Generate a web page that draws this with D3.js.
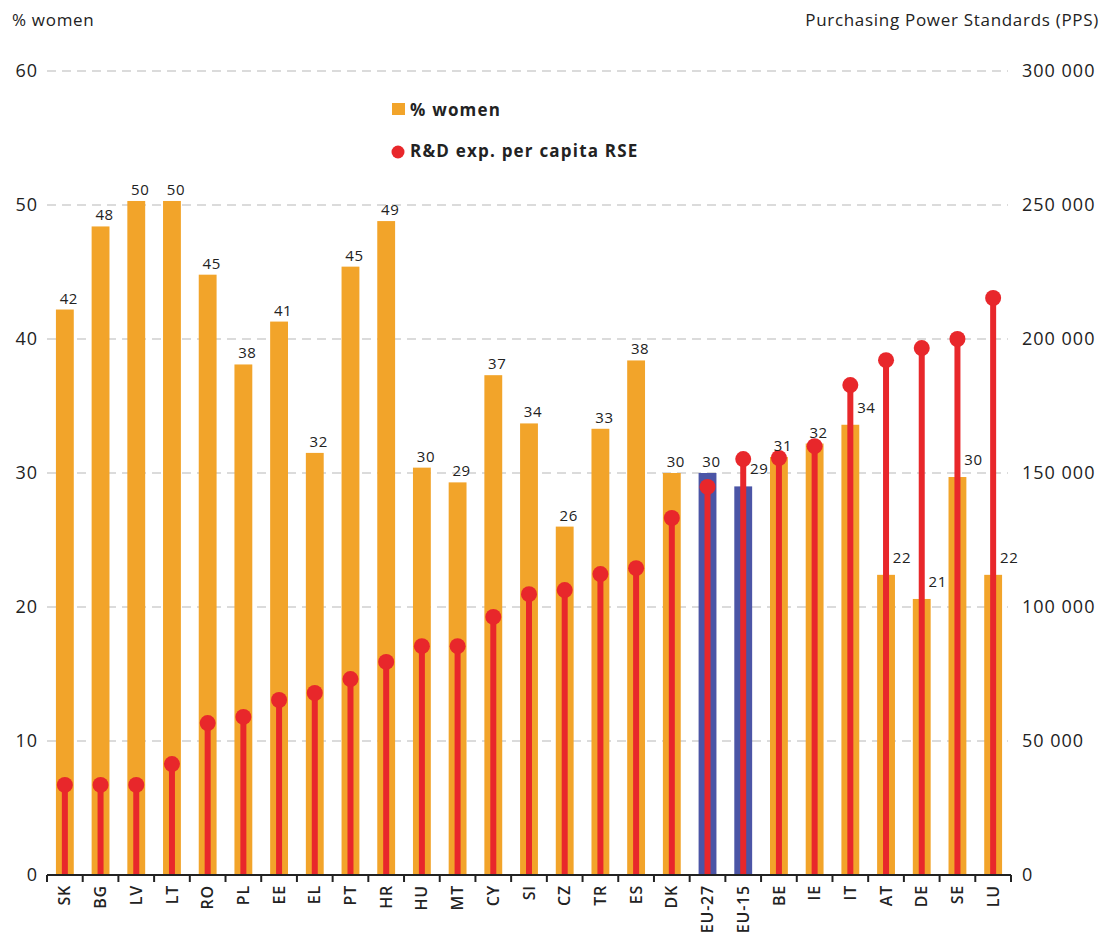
<!DOCTYPE html>
<html>
<head>
<meta charset="utf-8">
<script src="https://cdn.jsdelivr.net/npm/d3@7"></script>
<style>
  body { margin: 0; background: #fff; }
  svg text { font-family: "Open Sans", sans-serif; fill: #222; }
</style>
</head>
<body>
<svg></svg>
<script>
/** Chart values */
let countries = ['SK','BG','LV','LT','RO','PL','EE','EL','PT','HR','HU','MT','CY','SI','CZ','TR','ES','DK','EU-27','EU-15','BE','IE','IT','AT','DE','SE','LU'];
let women = [42.2,48.4,50.3,50.3,44.8,38.1,41.3,31.5,45.4,48.8,30.4,29.3,37.3,33.7,26.0,33.3,38.4,30.0,30.0,29.0,31.2,32.2,33.6,22.4,20.6,29.7,22.4];
let rdExp = [33600,33600,33600,41400,56700,59000,65300,67900,73100,79500,85400,85400,96300,104800,106300,112300,114500,133200,144800,155200,155600,160000,182800,192100,196600,200000,215300];
let aggregates = ['EU-27','EU-15'];
let leftTicks = [0,10,20,30,40,50,60];
let rightTicks = [0,50000,100000,150000,200000,250000,300000];

let width = 1103;
let height = 940;
let plotTop = 71;
let plotBottom = 875;
let plotLeft = 47;
let plotRight = 1011;

let orange = '#f2a42a';
let blue = '#4b55a6';
let red = '#e8272b';

let svg = d3.select('svg').attr('width', width).attr('height', height);

let x = d3.scaleBand().domain(countries).range([plotLeft, plotRight]).paddingInner(0.5).paddingOuter(0.25);
let yL = d3.scaleLinear().domain([0, 60]).range([plotBottom, plotTop]);
let yR = d3.scaleLinear().domain([0, 300000]).range([plotBottom, plotTop]);
let cx = d => x(d) + x.bandwidth() / 2;
let stemAbove = i => yR(rdExp[i]) < yL(women[i]);

/** Grid lines */
svg.append('g')
    .selectAll('line')
    .data(leftTicks.filter(t => t > 0))
    .enter()
    .append('line')
    .attr('x1', plotLeft)
    .attr('x2', plotRight - 3)
    .attr('y1', d => yL(d))
    .attr('y2', d => yL(d))
    .attr('stroke', '#d0d0d0')
    .attr('stroke-width', 1.6)
    .attr('stroke-dasharray', '9,6');

/** Axis labels */
let leftAxis = d3.axisLeft(yL).tickValues(leftTicks).tickSize(0).tickPadding(0);
svg.append('g')
    .attr('transform', `translate(38, 0)`)
    .call(leftAxis)
    .call(g => g.select('.domain').remove())
    .selectAll('text')
    .style('font-size', '18px')
    .style('letter-spacing', '1px')
    .attr('fill', '#222');

let rightAxis = d3.axisRight(yR).tickValues(rightTicks).tickSize(0).tickPadding(0)
    .tickFormat(d => d3.format(',')(d).replace(/,/g, ' '));
svg.append('g')
    .attr('transform', `translate(1022, 0)`)
    .call(rightAxis)
    .call(g => g.select('.domain').remove())
    .selectAll('text')
    .style('font-size', '18px')
    .style('letter-spacing', '1px')
    .attr('fill', '#222');

/** Bars */
svg.append('g')
    .selectAll('rect')
    .data(countries)
    .enter()
    .append('rect')
    .attr('x', d => x(d))
    .attr('width', x.bandwidth())
    .attr('y', (d, i) => yL(women[i]))
    .attr('height', (d, i) => plotBottom - yL(women[i]))
    .attr('fill', d => aggregates.includes(d) ? blue : orange);

/** Lollipops */
svg.append('g')
    .selectAll('line')
    .data(countries)
    .enter()
    .append('line')
    .attr('x1', cx)
    .attr('x2', cx)
    .attr('y1', plotBottom)
    .attr('y2', (d, i) => yR(rdExp[i]))
    .attr('stroke', red)
    .attr('stroke-width', 6);

svg.append('g')
    .selectAll('circle')
    .data(countries)
    .enter()
    .append('circle')
    .attr('cx', cx)
    .attr('cy', (d, i) => yR(rdExp[i]))
    .attr('r', 8)
    .attr('fill', red);

/** Value labels (moved right when the stem rises above the bar) */
svg.append('g')
    .selectAll('text')
    .data(countries)
    .enter()
    .append('text')
    .attr('x', (d, i) => cx(d) + (stemAbove(i) ? 16 : 4))
    .attr('y', (d, i) => yL(women[i]) - (stemAbove(i) ? 12 : 6))
    .attr('text-anchor', 'middle')
    .style('font-size', '15px')
    .style('letter-spacing', '0.6px')
    .text((d, i) => Math.round(women[i]));

/** X axis: baseline, ticks on band edges, rotated labels */
let edges = countries.map(d => cx(d) - x.step() / 2).concat([cx(countries[countries.length - 1]) + x.step() / 2]);
svg.append('line')
    .attr('x1', edges[0])
    .attr('x2', edges[edges.length - 1])
    .attr('y1', plotBottom)
    .attr('y2', plotBottom)
    .attr('stroke', '#222')
    .attr('stroke-width', 2);
svg.append('g')
    .selectAll('line')
    .data(edges)
    .enter()
    .append('line')
    .attr('x1', d => d)
    .attr('x2', d => d)
    .attr('y1', plotBottom)
    .attr('y2', plotBottom + 7)
    .attr('stroke', '#222')
    .attr('stroke-width', 2);

let xAxis = d3.axisBottom(x).tickSize(0).tickPadding(0);
svg.append('g')
    .attr('transform', `translate(0, ${plotBottom})`)
    .call(xAxis)
    .call(g => g.select('.domain').remove())
    .selectAll('text')
    .style('font-size', '16px')
    .style('letter-spacing', '0.8px')
    .style('font-weight', '600')
    .attr('fill', '#222')
    .attr('text-anchor', 'end')
    .attr('dy', '0.35em')
    .attr('transform', 'translate(0, 10) rotate(-90)');

/** Titles */
svg.append('text')
    .attr('x', 12)
    .attr('y', 26)
    .style('font-size', '17px')
    .style('letter-spacing', '0.7px')
    .text('% women');

svg.append('text')
    .attr('x', 1099)
    .attr('y', 26)
    .attr('text-anchor', 'end')
    .style('font-size', '17px')
    .style('letter-spacing', '0.7px')
    .text('Purchasing Power Standards (PPS)');

/** Legend */
let legend = svg.append('g');
legend.append('rect')
    .attr('x', 392).attr('y', 103).attr('width', 13).attr('height', 12)
    .attr('fill', orange);
legend.append('text')
    .attr('x', 410).attr('y', 116)
    .style('font-size', '17px').style('font-weight', 'bold')
    .style('letter-spacing', '1.2px')
    .text('% women');
legend.append('circle')
    .attr('cx', 398).attr('cy', 152).attr('r', 6.5)
    .attr('fill', red);
legend.append('text')
    .attr('x', 410).attr('y', 157)
    .style('font-size', '17px').style('font-weight', 'bold')
    .style('letter-spacing', '1.2px')
    .text('R&D exp. per capita RSE');
</script>
</body>
</html>
